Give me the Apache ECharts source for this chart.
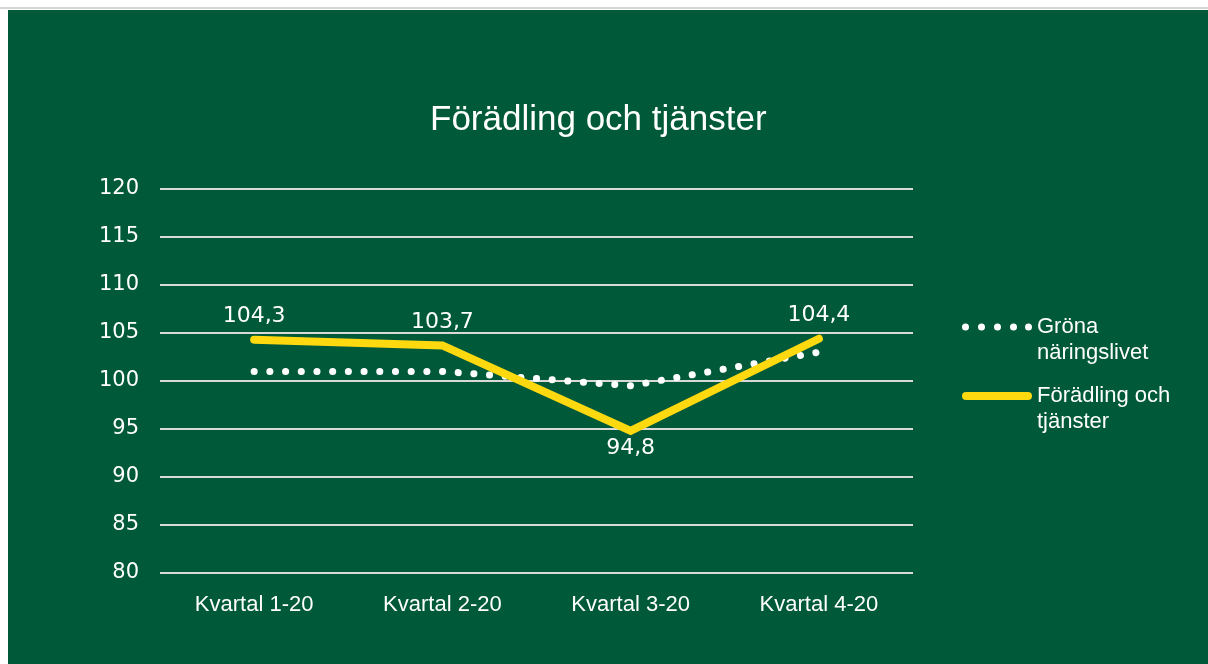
<!DOCTYPE html>
<html>
<head>
<meta charset="utf-8">
<script src="https://cdn.jsdelivr.net/npm/echarts@6/dist/echarts.min.js"></script>
<style>
  html, body { margin: 0; padding: 0; background: #ffffff; }
  #topline { position: absolute; left: 0; top: 7px; width: 1208px; height: 2px; background: #d4d4d4; }
  #chart { position: absolute; left: 8px; top: 10px; width: 1200px; height: 654px; }
</style>
</head>
<body>
<div id="topline"></div>
<div id="chart"></div>
<script>
// data
var categories = ['Kvartal 1-20', 'Kvartal 2-20', 'Kvartal 3-20', 'Kvartal 4-20'];
var gronaValues = [101.0, 101.0, 99.5, 103.0];
var foradlingValues = [104.3, 103.7, 94.8, 104.4];
var labelPositions = ['top', 'top', 'bottom', 'top'];
var legendNames = ['Gröna näringslivet', 'Förädling och tjänster'];
var legendLabels = ['Gröna\nnäringslivet', 'Förädling och\ntjänster'];

var FONT = '"Liberation Sans", Arial, sans-serif';
var NUMFONT = '"DejaVu Sans", sans-serif';

// legend icons: line drawn on the first text row, anchors keep the box 70x52
var anchors = 'M0,0 L70,0 M0,52 L70,52 ';
var dotsIcon = 'path://' + anchors + [3.5, 19.5, 35.5, 51.5, 66.5].map(function (cx) {
  return 'M' + (cx - 3.5) + ',13 A3.5,3.5 0 1,0 ' + (cx + 3.5) + ',13 A3.5,3.5 0 1,0 ' + (cx - 3.5) + ',13 Z';
}).join(' ');
var barIcon = 'path://' + anchors + 'M4,9 L66,9 A4,4 0 0,1 66,17 L4,17 A4,4 0 0,1 4,9 Z';

var chart = echarts.init(document.getElementById('chart'));

chart.setOption({
  backgroundColor: '#005a39',
  animation: false,
  title: {
    text: 'Förädling och tjänster',
    left: 417,
    top: 88,
    textStyle: { color: '#ffffff', fontSize: 35, fontWeight: 'normal', fontFamily: FONT }
  },
  grid: { left: 152, right: 295, top: 179, bottom: 91 },
  legend: {
    orient: 'vertical',
    left: 949,
    top: 299,
    itemWidth: 70,
    itemHeight: 52,
    itemGap: 17,
    itemTextGap: 5,
    itemStyle: { borderWidth: 0 },
    data: [
      { name: legendNames[0], icon: dotsIcon },
      { name: legendNames[1], icon: barIcon }
    ],
    formatter: function (name) { return legendLabels[legendNames.indexOf(name)]; },
    textStyle: { color: '#ffffff', fontSize: 22, fontFamily: FONT, lineHeight: 26 }
  },
  xAxis: {
    type: 'category',
    data: categories,
    boundaryGap: true,
    axisLine: { show: false },
    axisTick: { show: false },
    axisLabel: { color: '#ffffff', fontSize: 22, fontFamily: FONT, margin: 21 }
  },
  yAxis: {
    type: 'value',
    min: 80,
    max: 120,
    interval: 5,
    axisLine: { show: false },
    axisTick: { show: false },
    axisLabel: { color: '#ffffff', fontSize: 21, fontFamily: NUMFONT, margin: 21, padding: [4, 0, 0, 0] },
    splitLine: { lineStyle: { color: '#d9d9d9', width: 2 } }
  },
  series: [{
    name: legendNames[0],
    type: 'line',
    data: gronaValues,
    showSymbol: false,
    symbol: 'none',
    itemStyle: { color: '#ffffff' },
    lineStyle: { color: '#ffffff', width: 7, type: [0.1, 15.6], cap: 'round' },
    z: 2
  }, {
    name: legendNames[1],
    type: 'line',
    data: foradlingValues.map(function (v, i) {
      return {
        value: v,
        label: { position: labelPositions[i], distance: labelPositions[i] === 'bottom' ? 5 : 11 }
      };
    }),
    showSymbol: true,
    symbol: 'circle',
    symbolSize: 2,
    itemStyle: { color: '#ffd90f' },
    lineStyle: { color: '#ffd90f', width: 8, cap: 'round', join: 'miter' },
    label: {
      show: true,
      color: '#ffffff',
      fontSize: 22,
      fontFamily: NUMFONT,
      formatter: function (p) { return String(p.value).replace('.', ','); }
    },
    z: 3
  }]
});
</script>
</body>
</html>
